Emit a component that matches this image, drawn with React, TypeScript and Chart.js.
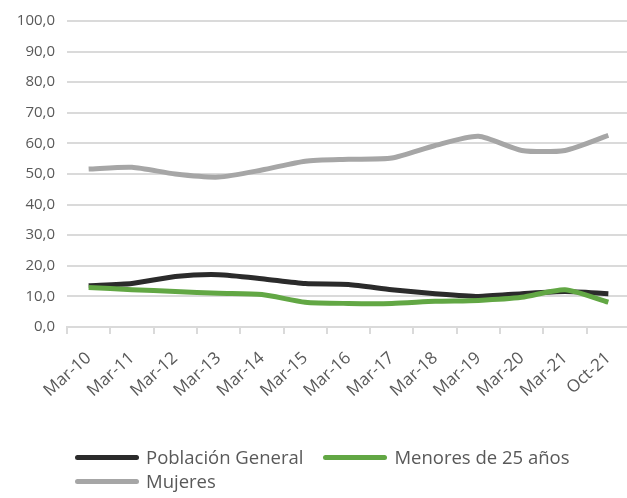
import React, { useEffect, useRef } from "react";
import { Chart, registerables } from "chart.js";

Chart.register(...registerables);

const categories = ["Mar-10", "Mar-11", "Mar-12", "Mar-13", "Mar-14", "Mar-15", "Mar-16", "Mar-17", "Mar-18", "Mar-19", "Mar-20", "Mar-21", "Oct-21"];
const poblacionGeneral = [13.5, 14.2, 16.5, 17.1, 15.8, 14.2, 13.9, 12.2, 10.9, 10.0, 10.9, 11.6, 10.9];
const menores25 = [12.9, 12.2, 11.6, 11.0, 10.6, 8.1, 7.7, 7.7, 8.4, 8.7, 9.7, 12.2, 8.1];
const mujeres = [51.6, 52.2, 50.0, 49.0, 51.3, 54.2, 54.8, 55.2, 59.3, 62.3, 57.7, 57.7, 62.6];

const seriesNames = ["Población General", "Menores de 25 años", "Mujeres"];
const seriesColors = ["#2b2b2b", "#62a744", "#a6a6a6"];
const seriesValues = [poblacionGeneral, menores25, mujeres];

const TEXT = "#595959";
const GRID = "#dadada";
const FONT = "'Open Sans', 'Noto Sans', sans-serif";

export default function App() {
  const ref = useRef<HTMLCanvasElement | null>(null);

  useEffect(() => {
    if (!ref.current) return;
    document.body.style.margin = "0";
    document.body.style.overflow = "hidden";
    const chart = new Chart(ref.current, {
      type: "line",
      data: {
        labels: categories,
        datasets: seriesNames.map((name, i) => ({
          label: name,
          data: seriesValues[i],
          borderColor: seriesColors[i],
          backgroundColor: seriesColors[i],
          borderWidth: 5,
          pointRadius: 0,
          tension: 0.22,
          fill: false,
          order: i === 2 ? 3 : i === 0 ? 2 : 1,
        })),
      },
      options: {
        animation: false,
        responsive: false,
        maintainAspectRatio: false,
        layout: { padding: { top: 17, left: 0, right: 0, bottom: 0 } },
        plugins: {
          legend: { display: false },
          tooltip: { enabled: false },
        },
        scales: {
          x: {
            offset: true,
            grid: {
              offset: true,
              drawOnChartArea: false,
              drawTicks: true,
              tickLength: 7,
              color: GRID,
              lineWidth: 2,
            },
            border: { display: true, color: GRID, width: 2 },
            ticks: {
              color: TEXT,
              font: { family: FONT, size: 17 },
              minRotation: 42,
              maxRotation: 42,
              autoSkip: false,
              padding: 14,
            },
            afterFit: (scale: any) => {
              scale.height = 171;
            },
          },
          y: {
            min: 0,
            max: 100,
            grid: { color: GRID, lineWidth: 2, drawTicks: false },
            border: { display: false },
            ticks: {
              stepSize: 10,
              color: TEXT,
              padding: 12,
              font: { family: FONT, size: 15 },
              callback: (v: any) => Number(v).toFixed(1).replace(".", ","),
            },
            afterFit: (scale: any) => {
              scale.width = 67;
            },
          },
        },
      },
    });
    return () => chart.destroy();
  }, []);

  return (
    <div style={{ position: "fixed", left: 0, top: 0, width: 627, height: 498, overflow: "hidden", background: "#fff" }}>
      <canvas ref={ref} width={636} height={498} style={{ width: 636, height: 498, display: "block" }} />
      <div
        style={{
          position: "absolute",
          left: 75,
          top: 445,
          width: 520,
          display: "flex",
          flexWrap: "wrap",
          columnGap: 20,
          fontFamily: FONT,
          fontSize: 18.5,
          color: TEXT,
          lineHeight: "24px",
        }}
      >
        {seriesNames.map((name, i) => (
          <div key={name} style={{ display: "flex", alignItems: "center", height: 24, whiteSpace: "nowrap" }}>
            <span style={{ display: "inline-block", width: 64, height: 5, borderRadius: 2.5, background: seriesColors[i], marginRight: 7 }} />
            <span>{name}</span>
          </div>
        ))}
      </div>
    </div>
  );
}
